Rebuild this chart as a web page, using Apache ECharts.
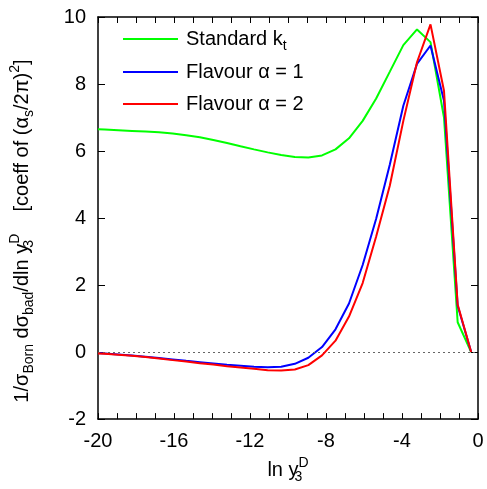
<!DOCTYPE html>
<html><head><meta charset="utf-8">
<script src="https://cdn.jsdelivr.net/npm/echarts@6/dist/echarts.min.js"></script>
<style>html,body{margin:0;padding:0;background:#fff}#c{width:487px;height:489px}</style>
</head><body><div id="c"></div>
<script>
const lnY = [-20, -19.64, -18.93, -18.21, -17.50, -16.79, -16.07, -15.36, -14.64, -13.93, -13.21, -12.50, -11.79, -11.07, -10.36, -9.64, -8.93, -8.21, -7.50, -6.79, -6.07, -5.36, -4.64, -3.93, -3.21, -2.50, -1.79, -1.07, -0.36];
const standardKt = [6.65, 6.64, 6.62, 6.60, 6.58, 6.56, 6.52, 6.47, 6.41, 6.33, 6.24, 6.14, 6.05, 5.96, 5.88, 5.82, 5.81, 5.87, 6.05, 6.38, 6.90, 7.57, 8.37, 9.16, 9.63, 9.25, 7.00, 0.89, 0];
const flavour1 = [-0.03, -0.04, -0.07, -0.10, -0.14, -0.18, -0.22, -0.26, -0.30, -0.34, -0.38, -0.41, -0.44, -0.45, -0.44, -0.35, -0.17, 0.15, 0.68, 1.45, 2.60, 3.98, 5.60, 7.35, 8.60, 9.15, 7.50, 1.38, 0];
const flavour2 = [-0.04, -0.05, -0.08, -0.11, -0.15, -0.19, -0.24, -0.28, -0.33, -0.37, -0.42, -0.46, -0.50, -0.54, -0.55, -0.52, -0.39, -0.10, 0.34, 1.06, 2.06, 3.45, 4.97, 6.90, 8.65, 9.78, 7.80, 1.42, 0];
const seriesNames = ['Standard kt', 'Flavour α = 1', 'Flavour α = 2'];
const seriesColors = ['#00ff00', '#0000ff', '#ff0000'];
const xTicks = [-20, -16, -12, -8, -4, 0];
const yTicks = [-2, 0, 2, 4, 6, 8, 10];

const FONT = 'Liberation Sans, Arial, sans-serif';
const FS = 20;
const rich = {
  n: {fontSize: FS, fontFamily: FONT, color: '#000', lineHeight: 28, verticalAlign: 'middle'},
  s: {fontSize: 14, fontFamily: FONT, color: '#000', lineHeight: 14, verticalAlign: 'bottom'},
  s0: {fontSize: 14, fontFamily: FONT, color: '#000', lineHeight: 14, verticalAlign: 'bottom', width: 0},
  p: {fontSize: 14, fontFamily: FONT, color: '#000', lineHeight: 14, verticalAlign: 'top'}
};
const legendText = {
  'Standard kt': '{n|Standard k}{s|t}',
  'Flavour α = 1': '{n|Flavour α = 1}',
  'Flavour α = 2': '{n|Flavour α = 2}'
};

const chart = echarts.init(document.getElementById('c'), null, {renderer: 'canvas'});
const data = [standardKt, flavour1, flavour2];
const series = data.map((vals, i) => ({
  name: seriesNames[i],
  type: 'line',
  data: lnY.map((x, j) => [x, vals[j]]),
  symbol: 'none',
  lineStyle: {color: seriesColors[i], width: 2},
  itemStyle: {color: seriesColors[i]},
  z: 3 + i,
  animation: false
}));
series[0].markLine = {
  silent: true, symbol: 'none', label: {show: false},
  lineStyle: {type: [2, 3], color: '#666', width: 1},
  data: [{yAxis: 0}], animation: false
};

const legendTops = [24, 57, 89];
const axisLineStyle = {color: '#000', width: 1.5};
chart.setOption({
  animation: false,
  grid: {left: 93, right: 9, top: 17, bottom: 68, containLabel: false},
  legend: seriesNames.map((nm, i) => ({
    data: [{name: nm, icon: 'rect', itemStyle: {color: seriesColors[i]}}],
    left: 118, top: legendTops[i], orient: 'vertical',
    itemWidth: 55, itemHeight: 2, itemGap: 13,
    formatter: (name) => legendText[name],
    textStyle: {rich: rich, fontSize: FS, fontFamily: FONT, color: '#000', padding: [0, 0, 0, 3]},
    selectedMode: false
  })),
  xAxis: [{
    type: 'value', min: -20, max: 0, interval: 4, position: 'bottom',
    axisLine: {show: true, onZero: false, lineStyle: axisLineStyle},
    axisTick: {show: true, inside: true, length: 6, lineStyle: {color: '#000'}},
    minorTick: {show: true, splitNumber: 4, length: 6, lineStyle: {color: '#000'}},
    splitLine: {show: false},
    axisLabel: {fontSize: FS, fontFamily: FONT, color: '#000', margin: 12,
      formatter: v => xTicks.includes(v) ? String(v) : ''},
    name: '{n|ln y}{s0|3}{p|D}',
    nameLocation: 'middle', nameGap: 33,
    nameTextStyle: {rich: rich}
  }, {
    type: 'value', min: -20, max: 0, interval: 4, position: 'top',
    axisLine: {show: true, onZero: false, lineStyle: axisLineStyle},
    axisTick: {show: true, inside: true, length: 6, lineStyle: {color: '#000'}},
    minorTick: {show: true, splitNumber: 4, length: 6, lineStyle: {color: '#000'}},
    splitLine: {show: false}, axisLabel: {show: false}
  }],
  yAxis: [{
    type: 'value', min: -2, max: 10, interval: 2, position: 'left',
    axisLine: {show: true, onZero: false, lineStyle: axisLineStyle},
    axisTick: {show: true, inside: true, length: 7, lineStyle: {color: '#000'}},
    splitLine: {show: false},
    axisLabel: {fontSize: FS, fontFamily: FONT, color: '#000', margin: 12,
      formatter: v => yTicks.includes(v) ? String(v) : ''},
    name: '{n|1/σ}{s|Born}{n| dσ}{s|bad}{n|/dln y}{s0|3}{p|D}{n|    [coeff of (α}{s|s}{n|/2π)}{p|2}{n|]}',
    nameLocation: 'middle', nameGap: 62, nameRotate: 90,
    nameTextStyle: {rich: rich, padding: [0, 26, 0, 0]}
  }, {
    type: 'value', min: -2, max: 10, interval: 2, position: 'right',
    axisLine: {show: true, onZero: false, lineStyle: axisLineStyle},
    axisTick: {show: true, inside: true, length: 7, lineStyle: {color: '#000'}},
    splitLine: {show: false}, axisLabel: {show: false}
  }],
  series: series
});
</script>
</body></html>
